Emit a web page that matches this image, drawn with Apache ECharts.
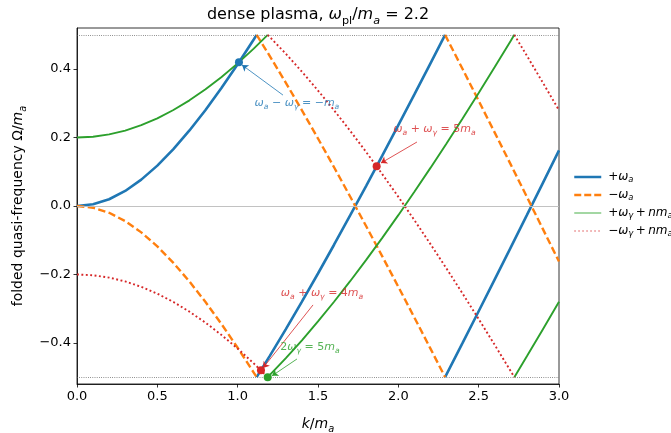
<!DOCTYPE html>
<html><head><meta charset="utf-8">
<script src="https://cdn.jsdelivr.net/npm/echarts@6/dist/echarts.min.js"></script>
<style>html,body{margin:0;padding:0;background:#fff}#c{width:671px;height:433px}</style>
</head><body><div id="c"></div>
<script>
// ---- data ----
// +omega_a branch (folded), three segments
const kA1 = [0, 0.1, 0.2, 0.3, 0.4, 0.5, 0.6, 0.7, 0.8, 0.9, 1.0, 1.1, 1.118];
const pA1 = [0, 0.005, 0.0198, 0.044, 0.077, 0.118, 0.1662, 0.2207, 0.2806, 0.3454, 0.4142, 0.4866, 0.5];
const kA2 = [1.118, 1.2, 1.3, 1.4, 1.5, 1.6, 1.7, 1.8, 1.9, 2.0, 2.1, 2.2, 2.291];
const pA2 = [-0.5, -0.438, -0.3599, -0.2795, -0.1972, -0.1132, -0.0277, 0.0591, 0.1471, 0.2361, 0.3259, 0.4166, 0.5];
const kA3 = [2.291, 2.4, 2.5, 2.6, 2.7, 2.8, 2.9, 3.0];
const pA3 = [-0.5, -0.4, -0.3074, -0.2143, -0.1208, -0.0268, 0.0676, 0.1623];
// -omega_a branch
const mA1 = [0, -0.005, -0.0198, -0.044, -0.077, -0.118, -0.1662, -0.2207, -0.2806, -0.3454, -0.4142, -0.4866, -0.5];
const mA2 = [0.5, 0.438, 0.3599, 0.2795, 0.1972, 0.1132, 0.0277, -0.0591, -0.1471, -0.2361, -0.3259, -0.4166, -0.5];
const mA3 = [0.5, 0.4, 0.3074, 0.2143, 0.1208, 0.0268, -0.0676, -0.1623];
// +omega_gamma + n m_a branch
const kG1 = [0, 0.1, 0.2, 0.3, 0.4, 0.5, 0.6, 0.7, 0.8, 0.9, 1.0, 1.1, 1.187];
const pG1 = [0.2, 0.2023, 0.2091, 0.2204, 0.2361, 0.2561, 0.2804, 0.3087, 0.3409, 0.377, 0.4166, 0.4597, 0.5];
const kG2 = [1.187, 1.3, 1.4, 1.5, 1.6, 1.7, 1.8, 1.9, 2.0, 2.1, 2.2, 2.3, 2.4, 2.5, 2.6, 2.7, 2.722];
const pG2 = [-0.5, -0.4446, -0.3923, -0.3373, -0.2797, -0.2197, -0.1575, -0.0931, -0.0268, 0.0414, 0.1113, 0.1828, 0.2558, 0.3302, 0.4059, 0.4828, 0.5];
const kG3 = [2.722, 2.8, 2.9, 3.0];
const pG3 = [-0.5, -0.4391, -0.36, -0.2798];
// -omega_gamma + n m_a branch
const mG1 = [-0.2, -0.2023, -0.2091, -0.2204, -0.2361, -0.2561, -0.2804, -0.3087, -0.3409, -0.377, -0.4166, -0.4597, -0.5];
const mG2 = [0.5, 0.4446, 0.3923, 0.3373, 0.2797, 0.2197, 0.1575, 0.0931, 0.0268, -0.0414, -0.1113, -0.1828, -0.2558, -0.3302, -0.4059, -0.4828, -0.5];
const mG3 = [0.5, 0.4391, 0.36, 0.2798];
// marked crossings
const markBlue = [[1.008, 0.42]];
const markRed = [[1.865, 0.116], [1.145, -0.48]];
const markGreen = [[1.187, -0.5]];
// annotation text centres and arrows
const annTextPos = [[1.369, 0.30], [2.225, 0.225], [1.525, -0.254], [1.45, -0.412]];
const annArrows = [
  [[1.282, 0.324], [1.027, 0.412]],
  [[2.116, 0.187], [1.892, 0.1255]],
  [[1.469, -0.289], [1.158, -0.473]],
  [[1.369, -0.447], [1.214, -0.496]]
];
const yTicks = [-0.4, -0.2, 0, 0.2, 0.4];
const refLevels = [-0.5, 0.5];

// ---- styling ----
const FONT = 'DejaVu Sans';
const C = {blue:'#1f77b4', orange:'#ff7f0e', green:'#2ca02c', red:'#d62728'};
function rich(size, color, lh) {
  lh = lh || size * 1.45;
  const sub = Math.max(lh - 0.56 * size, 1);
  const base = {fontFamily: FONT, color, fontWeight: 'normal'};
  return {
    n: Object.assign({}, base, {fontSize: size, lineHeight: lh}),
    i: Object.assign({}, base, {fontSize: size, fontStyle: 'italic', lineHeight: lh}),
    s: Object.assign({}, base, {fontSize: size * 0.7, fontStyle: 'italic', verticalAlign: 'bottom', lineHeight: sub}),
    r: Object.assign({}, base, {fontSize: size * 0.7, verticalAlign: 'bottom', lineHeight: sub})
  };
}
function seg(parts) {
  const out = [];
  parts.forEach((p, j) => {
    if (j) out.push([p[0][0], null]);
    p[0].forEach((k, i) => out.push([k, p[1][i]]));
  });
  return out;
}
const TS = '\u2009';
const legendText = {
  pa: '{n|+}{i|ω}{s|a}',
  ma: '{n|−}{i|ω}{s|a}',
  pg: '{n|+}{i|ω}{s|γ}{n|' + TS + '+' + TS + '}{i|nm}{s|a}',
  mg: '{n|−}{i|ω}{s|γ}{n|' + TS + '+' + TS + '}{i|nm}{s|a}'
};
const annTexts = [
  ['{i|ω}{s|a}{n| − }{i|ω}{s|γ}{n| = −}{i|m}{s|a}', C.blue],
  ['{i|ω}{s|a}{n| + }{i|ω}{s|γ}{n| = 5}{i|m}{s|a}', C.red],
  ['{i|ω}{s|a}{n| + }{i|ω}{s|γ}{n| = 4}{i|m}{s|a}', C.red],
  ['{n|2}{i|ω}{s|γ}{n| = 5}{i|m}{s|a}', C.green]
];
const arrowColors = [C.blue, C.red, C.red, C.green];

const chart = echarts.init(document.getElementById('c'), null, {renderer: 'canvas'});
chart.setOption({
  animation: false,
  backgroundColor: '#fff',
  title: {
    text: '{n|dense plasma, }{i|ω}{r|pl}{n|/}{i|m}{s|a}{n| = 2.2}',
    left: 318, textAlign: 'center', top: 3, padding: 0,
    textStyle: {fontWeight: 'normal', rich: rich(16, '#000')}
  },
  grid: {left: 77, right: 112, top: 28, bottom: 49, show: true, borderColor: '#000', borderWidth: 0.8,
    backgroundColor: 'transparent', outerBoundsMode: 'none', containLabel: false},
  legend: {
    orient: 'vertical', left: 573, top: 171, padding: 0,
    itemWidth: 27, itemHeight: 12, itemGap: 5,
    itemStyle: {opacity: 0},
    data: [
      {name: 'pa', lineStyle: {color: C.blue, width: 2.5}},
      {name: 'ma', lineStyle: {color: C.orange, width: 2.3, type: [7, 3]}},
      {name: 'pg', lineStyle: {color: '#8dce8d', width: 1.6}},
      {name: 'mg', lineStyle: {color: '#ea8e8f', width: 1.6, type: [1.6, 2.4]}}
    ],
    formatter: n => legendText[n],
    textStyle: {padding: [0, 0, 0, 2], rich: rich(12, '#000', 14)}
  },
  xAxis: {
    type: 'value', min: 0, max: 3, interval: 0.5,
    name: '{i|k}{n|/}{i|m}{s|a}', nameLocation: 'middle', nameGap: 30,
    nameTextStyle: {rich: rich(14, '#000')},
    axisLine: {show: true, onZero: false, lineStyle: {color: '#000', width: 0.8}},
    axisTick: {show: true, length: 3.5, lineStyle: {color: '#000', width: 0.8}},
    axisLabel: {color: '#000', fontFamily: FONT, fontSize: 13, margin: 6, formatter: v => v.toFixed(1)},
    splitLine: {show: false}
  },
  yAxis: {
    type: 'value', min: -0.52, max: 0.52,
    name: '{n|folded quasi-frequency Ω/}{i|m}{s|a}', nameLocation: 'middle', nameGap: 48,
    nameTextStyle: {rich: rich(14, '#000')},
    axisLine: {show: true, onZero: false, lineStyle: {color: '#000', width: 0.8}},
    axisTick: {show: true, length: 3.5, customValues: yTicks, lineStyle: {color: '#000', width: 0.8}},
    axisLabel: {color: '#000', fontFamily: FONT, fontSize: 13, margin: 6, customValues: yTicks,
      formatter: v => (v < -1e-9 ? '−' : '') + Math.abs(v).toFixed(1)},
    splitLine: {show: false}
  },
  series: [
    {name: 'ref', type: 'line', data: [], z: 1, silent: true,
     markLine: {silent: true, symbol: 'none', label: {show: false}, animation: false,
       data: [
         {yAxis: 0, lineStyle: {color: '#bbbbbb', type: 'solid', width: 0.9}},
         {yAxis: refLevels[0], lineStyle: {color: '#555', type: [0.8, 1.4], width: 0.8}},
         {yAxis: refLevels[1], lineStyle: {color: '#555', type: [0.8, 1.4], width: 0.8}}
       ]}},
    {name: 'pa', type: 'line', symbol: 'none', z: 3, data: seg([[kA1, pA1], [kA2, pA2], [kA3, pA3]]),
     itemStyle: {color: C.blue}, lineStyle: {color: C.blue, width: 2.6}},
    {name: 'ma', type: 'line', symbol: 'none', z: 3, data: seg([[kA1, mA1], [kA2, mA2], [kA3, mA3]]),
     itemStyle: {color: C.orange}, lineStyle: {color: C.orange, width: 2.4, type: [7.4, 3.4]}},
    {name: 'pg', type: 'line', symbol: 'none', z: 3, data: seg([[kG1, pG1], [kG2, pG2], [kG3, pG3]]),
     itemStyle: {color: C.green}, lineStyle: {color: C.green, width: 1.9}},
    {name: 'mg', type: 'line', symbol: 'none', z: 3, data: seg([[kG1, mG1], [kG2, mG2], [kG3, mG3]]),
     itemStyle: {color: C.red}, lineStyle: {color: C.red, width: 1.9, type: [1.9, 2.5]}},
    {name: 'mkB', type: 'scatter', z: 5, symbolSize: 8, data: markBlue, itemStyle: {color: C.blue, opacity: 1}},
    {name: 'mkR', type: 'scatter', z: 5, symbolSize: 8, data: markRed, itemStyle: {color: C.red, opacity: 1}},
    {name: 'mkG', type: 'scatter', z: 5, symbolSize: 8, data: markGreen, itemStyle: {color: C.green, opacity: 1}},
    {name: 'arrows', type: 'lines', coordinateSystem: 'cartesian2d', z: 4,
     symbol: ['none', 'arrow'], symbolSize: 6,
     data: annArrows.map((a, i) => ({coords: a, lineStyle: {color: arrowColors[i], width: 0.8, opacity: 1}}))},
    {name: 'annText', type: 'scatter', z: 6, symbolSize: 0, itemStyle: {color: 'rgba(0,0,0,0)'},
     data: annTextPos.map((p, i) => ({value: p, label: {show: true, position: 'inside',
       formatter: annTexts[i][0], rich: rich(11, annTexts[i][1])}}))}
  ]
});
</script></body></html>
